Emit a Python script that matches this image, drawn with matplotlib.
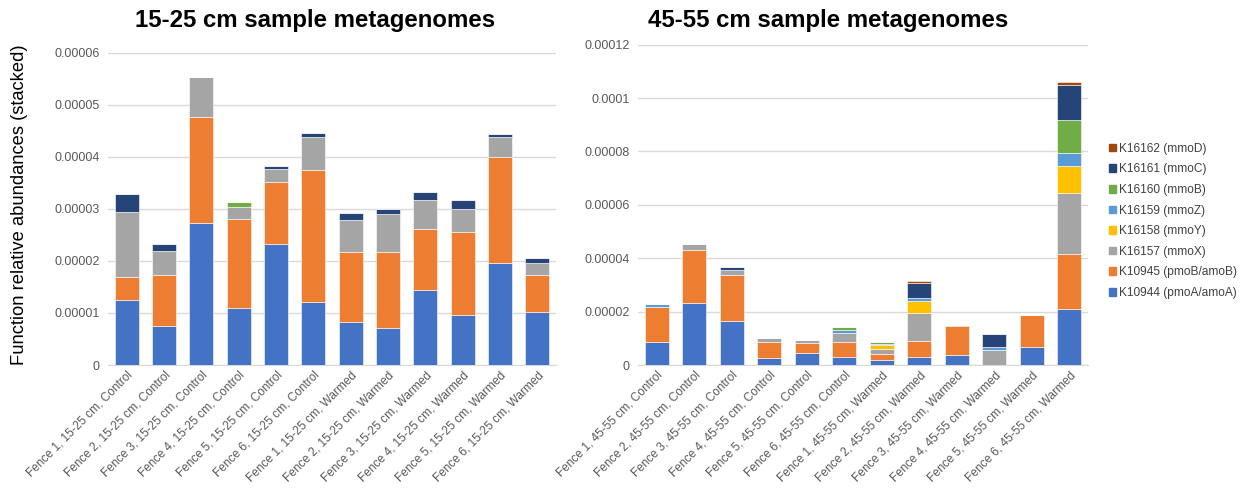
import numpy as np
import matplotlib
matplotlib.use("Agg")
import matplotlib.pyplot as plt
from matplotlib.patches import Patch

plt.rcParams['font.family'] = ['Liberation Sans', 'DejaVu Sans']

# sample labels
samples_15 = [f"Fence {i}, 15-25 cm, Control" for i in range(1, 7)] + \
             [f"Fence {i}, 15-25 cm, Warmed" for i in range(1, 7)]
samples_45 = [f"Fence {i}, 45-55 cm, Control" for i in range(1, 7)] + \
             [f"Fence {i}, 45-55 cm, Warmed" for i in range(1, 7)]

functions = ["K10944 (pmoA/amoA)", "K10945 (pmoB/amoB)", "K16157 (mmoX)",
             "K16158 (mmoY)", "K16159 (mmoZ)", "K16160 (mmoB)",
             "K16161 (mmoC)", "K16162 (mmoD)"]
colors = ["#4472C4", "#ED7D31", "#A5A5A5", "#FFC000", "#5B9BD5",
          "#70AD47", "#264478", "#9E480E"]

# values in units of 1e-5
# 15-25 cm
pmoA_15 = [1.255, 0.755, 2.734, 1.101, 2.318, 1.216, 0.832, 0.704, 1.434, 0.967, 1.953, 1.018]
pmoB_15 = [0.435, 0.967, 2.023, 1.710, 1.190, 2.529, 1.332, 1.460, 1.172, 1.581, 2.048, 0.704]
mmoX_15 = [1.250, 0.468, 0.781, 0.225, 0.263, 0.628, 0.621, 0.730, 0.569, 0.448, 0.372, 0.237]
mmoY_15 = [0, 0, 0, 0, 0, 0, 0, 0, 0, 0, 0, 0]
mmoZ_15 = [0, 0, 0, 0, 0, 0, 0, 0, 0, 0, 0, 0]
mmoB_15 = [0, 0, 0, 0.096, 0, 0, 0, 0, 0, 0, 0, 0]
mmoC_15 = [0.340, 0.134, 0, 0, 0.051, 0.076, 0.128, 0.096, 0.154, 0.173, 0.070, 0.090]
mmoD_15 = [0, 0, 0, 0, 0, 0, 0, 0, 0, 0, 0, 0]

# 45-55 cm
pmoA_45 = [0.874, 2.335, 1.630, 0.262, 0.462, 0.312, 0.200, 0.312, 0.362, 0.000, 0.662, 2.085]
pmoB_45 = [1.311, 1.985, 1.728, 0.612, 0.350, 0.562, 0.224, 0.600, 1.086, 0.000, 1.223, 2.085]
mmoX_45 = [0.000, 0.200, 0.200, 0.150, 0.113, 0.312, 0.188, 1.024, 0.050, 0.574, 0, 2.272]
mmoY_45 = [0, 0, 0, 0, 0, 0, 0.140, 0.462, 0, 0, 0, 1.024]
mmoZ_45 = [0.100, 0, 0, 0, 0, 0.137, 0.020, 0.100, 0, 0.100, 0, 0.487]
mmoB_45 = [0, 0, 0, 0, 0, 0.100, 0.080, 0, 0, 0, 0, 1.223]
mmoC_45 = [0, 0, 0.100, 0, 0, 0, 0, 0.587, 0, 0.500, 0, 1.311]
mmoD_45 = [0, 0, 0, 0, 0, 0, 0, 0.062, 0, 0, 0, 0.100]

data_15 = [pmoA_15, pmoB_15, mmoX_15, mmoY_15, mmoZ_15, mmoB_15, mmoC_15, mmoD_15]
data_45 = [pmoA_45, pmoB_45, mmoX_45, mmoY_45, mmoZ_45, mmoB_45, mmoC_45, mmoD_45]

W, H = 1245, 488
fig = plt.figure(figsize=(W / 100, H / 100), dpi=100)


def px_axes(x0, y0, x1, y1):
    return fig.add_axes([x0 / W, (H - y1) / H, (x1 - x0) / W, (y1 - y0) / H])


def stacked(ax, labels, data, ymax, step, fmt):
    x = np.arange(len(labels))
    bottom = np.zeros(len(labels))
    for vals, c in zip(data, colors):
        v = np.array(vals) * 1e-5
        ax.bar(x, v, 0.65, bottom=bottom, color=c, edgecolor='white', linewidth=0.4, zorder=3)
        bottom += v
    ax.set_xlim(-0.5, len(labels) - 0.5)
    ax.set_ylim(0, ymax)
    ticks = np.arange(0, ymax + step / 2, step)
    ax.set_yticks(ticks)
    ax.set_yticklabels(["0"] + [fmt(t) for t in ticks[1:]], fontsize=9, color='#595959')
    ax.set_xticks(x)
    ax.set_xticklabels(labels, rotation=45, ha='right', va='top', rotation_mode='anchor',
                       fontsize=8.6, color='#595959')
    ax.grid(axis='y', color='#D9D9D9', linewidth=1, zorder=0)
    for s in ['top', 'right', 'left']:
        ax.spines[s].set_visible(False)
    ax.spines['bottom'].set_color('#D9D9D9')
    ax.tick_params(axis='y', length=0, pad=6)
    ax.tick_params(axis='x', length=0, pad=3)


ax1 = px_axes(108, 52.7, 556, 365)
stacked(ax1, samples_15, data_15, 0.00006, 0.00001, lambda t: f"{t:.5f}")
ax2 = px_axes(638, 44.7, 1088, 365)
stacked(ax2, samples_45, data_45, 0.00012, 0.00002, lambda t: f"{t:.5f}".rstrip('0'))

fig.text(315 / W, 1 - 20 / H, "15-25 cm sample metagenomes", ha='center', va='center',
         fontsize=17.3, fontweight='bold')
fig.text(828 / W, 1 - 20 / H, "45-55 cm sample metagenomes", ha='center', va='center',
         fontsize=17.3, fontweight='bold')
fig.text(20 / W, 1 - 205 / H, "Function relative abundances (stacked)", rotation=90,
         ha='center', va='center', fontsize=13.2)

handles = [Patch(color=c, label=l) for c, l in zip(colors, functions)][::-1]
fig.legend(handles=handles, loc='upper left', bbox_to_anchor=(1098 / W, 1 - 132 / H),
           frameon=False, fontsize=8.6, handlelength=0.6, handleheight=0.6,
           handletextpad=0.25, labelspacing=0.72, labelcolor='#404040')

fig.savefig("out.png", dpi=100)
